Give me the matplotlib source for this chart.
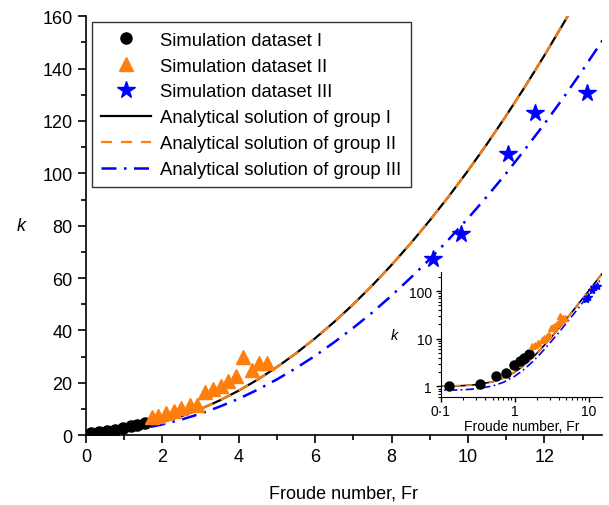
import numpy as np
import matplotlib.pyplot as plt
from matplotlib.ticker import MultipleLocator, LogLocator, NullFormatter, FixedLocator

plt.rcParams['font.family'] = ['Liberation Sans', 'DejaVu Sans']

# simulation datasets
fr_1 = [0.13, 0.34, 0.55, 0.77, 0.97, 1.17, 1.35, 1.55]
k_1 = [1.02, 1.10, 1.62, 1.91, 2.76, 3.40, 3.93, 4.70]

fr_2 = [1.72, 1.89, 2.09, 2.30, 2.50, 2.72, 2.91, 3.12, 3.32, 3.53, 3.73, 3.94, 4.12, 4.34, 4.54, 4.73]
k_2 = [7.0, 7.25, 8.3, 9.3, 10.2, 11.5, 11.7, 16.5, 17.6, 18.8, 20.6, 22.5, 29.9, 24.8, 27.4, 27.4]

fr_3 = [9.08, 9.81, 11.05, 11.75, 13.12]
k_3 = [67.2, 76.7, 107.3, 122.9, 130.5]

# analytical curves
fr_line = [0.0, 0.1, 0.2, 0.3, 0.5, 0.7, 1.0, 1.25, 1.5, 1.75, 2.0, 2.5, 3.0, 3.5, 4.0, 4.5, 5.0, 5.5,
           6.0, 6.5, 7.0, 7.5, 8.0, 8.5, 9.0, 9.5, 10.0, 10.5, 11.0, 11.5, 12.0, 12.5, 13.0, 13.5, 14.0, 15.0]
k_group1 = [1.0, 1.01, 1.04, 1.09, 1.25, 1.49, 2.0, 2.56, 3.25, 4.06, 5.0, 7.25, 10.0, 13.25, 17.0, 21.25,
            26.0, 31.25, 37.0, 43.25, 50.0, 57.25, 65.0, 73.25, 82.0, 91.25, 101.0, 111.25, 122.0, 133.25,
            145.0, 157.25, 170.0, 183.25, 197.0, 226.0]
k_group2 = k_group1
k_group3 = [0.82, 0.83, 0.85, 0.89, 1.02, 1.22, 1.64, 2.10, 2.67, 3.33, 4.10, 5.95, 8.20, 10.9, 13.9, 17.4,
            21.3, 25.6, 30.3, 35.5, 41.0, 46.9, 53.3, 60.1, 67.2, 74.8, 82.8, 91.2, 100.0, 109.3,
            118.9, 128.9, 139.4, 150.3, 161.5, 185.3]

blue = '#0000ff'
orange = '#ff7f0e'

fig = plt.figure(figsize=(6.09, 5.06), dpi=100)
ax = fig.add_axes([0.141, 0.138, 0.847, 0.828])

ax.plot(fr_line, k_group1, color='black', lw=1.6, label='Analytical solution of group I')
ax.plot(fr_line, k_group2, color=orange, lw=1.6, ls=(0, (5, 4)), label='Analytical solution of group II')
ax.plot(fr_line, k_group3, color=blue, lw=1.8, ls=(0, (6, 3, 1, 3)), label='Analytical solution of group III')
ax.plot(fr_1, k_1, 'o', color='black', ms=8, label='Simulation dataset I')
ax.plot(fr_2, k_2, '^', color=orange, ms=10, label='Simulation dataset II')
ax.plot(fr_3, k_3, '*', color=blue, ms=13, label='Simulation dataset III')

ax.set_xlim(0, 13.5)
ax.set_ylim(0, 160)
ax.xaxis.set_major_locator(MultipleLocator(2))
ax.xaxis.set_minor_locator(MultipleLocator(1))
ax.yaxis.set_major_locator(MultipleLocator(20))
ax.yaxis.set_minor_locator(MultipleLocator(10))
for s in ['top', 'right']:
    ax.spines[s].set_visible(False)
ax.spines['left'].set_linewidth(1.2)
ax.spines['bottom'].set_linewidth(1.2)
ax.tick_params(which='major', length=6, width=1.2, labelsize=13)
ax.tick_params(which='minor', length=3.5, width=1.2)
ax.set_xlabel('Froude number, Fr', fontsize=13, labelpad=14)
ax.set_ylabel('k', fontsize=13, style='italic', rotation=0, labelpad=15, va='center')

handles, labels = ax.get_legend_handles_labels()
order = [3, 4, 5, 0, 1, 2]
leg = ax.legend([handles[i] for i in order], [labels[i] for i in order], loc='upper left',
                bbox_to_anchor=(0.012, 0.985), borderaxespad=0, fontsize=13.3, numpoints=1,
                fancybox=False, framealpha=1, edgecolor='#333333', handlelength=2.7,
                labelspacing=0.48, borderpad=0.5, handletextpad=0.5)
leg.get_frame().set_linewidth(1.0)

# inset on log axes
ins = fig.add_axes([0.724, 0.2134, 0.264, 0.247])
ins.plot(fr_line, k_group1, color='black', lw=1.2)
ins.plot(fr_line, k_group2, color=orange, lw=1.2, ls=(0, (4, 3)))
ins.plot(fr_line, k_group3, color=blue, lw=1.2, ls=(0, (5, 2, 1, 2)))
ins.plot(fr_1, k_1, 'o', color='black', ms=6.5)
ins.plot(fr_2, k_2, '^', color=orange, ms=5)
ins.plot(fr_3, k_3, '*', color=blue, ms=6)
ins.set_xscale('log')
ins.set_yscale('log')
ins.set_xlim(0.1, 15)
ins.set_ylim(0.6, 250)
ins.xaxis.set_major_locator(FixedLocator([0.1, 1, 10]))
ins.set_xticklabels(['0·1', '1', '10'])
ins.yaxis.set_major_locator(FixedLocator([1, 10, 100]))
ins.set_yticklabels(['1', '10', '100'])
ins.xaxis.set_minor_locator(LogLocator(base=10, subs=np.arange(2, 10)))
ins.yaxis.set_minor_locator(LogLocator(base=10, subs=np.arange(2, 10)))
ins.xaxis.set_minor_formatter(NullFormatter())
ins.yaxis.set_minor_formatter(NullFormatter())
for s in ['top', 'right']:
    ins.spines[s].set_visible(False)
ins.tick_params(which='major', length=3.5, width=1, labelsize=10, pad=1.5)
ins.tick_params(which='minor', length=2, width=0.8)
ins.tick_params(axis='y', which='major', pad=3)
ins.set_xlabel('Froude number, Fr', fontsize=10, labelpad=1)
ins.set_ylabel('k', fontsize=10.5, style='italic', rotation=0, labelpad=10, va='center')

fig.savefig('out.png', dpi=100)
